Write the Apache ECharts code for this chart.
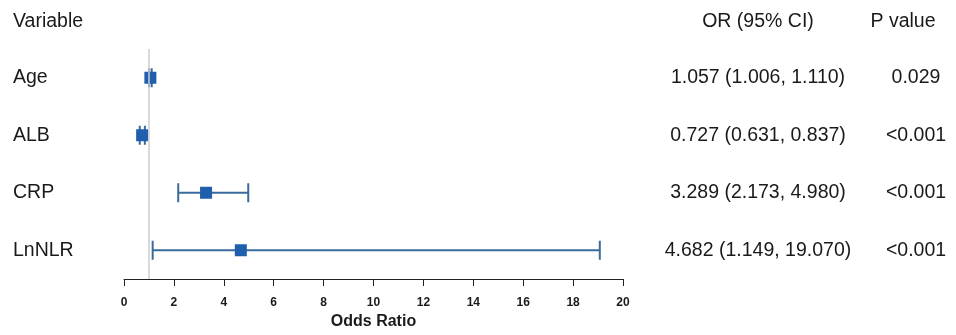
<!DOCTYPE html>
<html>
<head>
<meta charset="utf-8">
<script src="https://cdn.jsdelivr.net/npm/echarts@6/dist/echarts.min.js"></script>
<style>
  html, body { margin: 0; padding: 0; background: #ffffff; }
  #chart { width: 956px; height: 335px; }
</style>
</head>
<body>
<div id="chart"></div>
<script>
// Logistic regression results: odds ratios with 95% confidence intervals
const variables  = ['Age', 'ALB', 'CRP', 'LnNLR'];
const oddsRatios = [1.057, 0.727, 3.289, 4.682];
const ciLower    = [1.006, 0.631, 2.173, 1.149];
const ciUpper    = [1.110, 0.837, 4.980, 19.070];
const pValues    = ['0.029', '<0.001', '<0.001', '<0.001'];

const headerVariable = 'Variable';
const headerOR       = 'OR (95% CI)';
const headerP        = 'P value';
const axisTitle      = 'Odds Ratio';

const xMin = 0, xMax = 20, xStep = 2;
const nullValue = 1;

const FONT = '"Liberation Sans", Arial, sans-serif';
const TEXT_SIZE = 19.5;
const TEXT_COLOR = '#1a1a1a';
const MARK_COLOR = '#1f5fae';
const WHISKER_COLOR = '#3a6b9c';

const orText = oddsRatios.map((v, i) =>
  v.toFixed(3) + ' (' + ciLower[i].toFixed(3) + ', ' + ciUpper[i].toFixed(3) + ')');

const chart = echarts.init(document.getElementById('chart'), null, { renderer: 'canvas' });

const categoryAxis = (extra) => Object.assign({
  type: 'category',
  data: variables,
  inverse: true,
  axisLine: { show: false },
  axisTick: { show: false },
  splitLine: { show: false }
}, extra);

const tableLabel = (extra) => Object.assign({
  fontFamily: FONT, fontSize: TEXT_SIZE, color: TEXT_COLOR,
  padding: [3, 0, 0, 0]
}, extra);

const option = {
  animation: false,
  backgroundColor: '#ffffff',
  textStyle: { fontFamily: FONT },
  grid: { left: 124, right: 333, top: 49, bottom: 56, containLabel: false },
  xAxis: {
    type: 'value',
    min: xMin, max: xMax, interval: xStep,
    name: axisTitle,
    nameLocation: 'middle',
    nameGap: 35,
    nameTextStyle: { fontFamily: FONT, fontSize: 16, fontWeight: 'bold', color: TEXT_COLOR },
    axisLine: { show: true, lineStyle: { color: '#222', width: 1 } },
    axisTick: { show: true, length: 7, lineStyle: { color: '#222', width: 1 } },
    axisLabel: { fontFamily: FONT, fontSize: 12, fontWeight: 'bold', color: TEXT_COLOR, margin: 18 },
    splitLine: { show: false }
  },
  yAxis: [
    categoryAxis({
      position: 'left',
      axisLabel: tableLabel({ align: 'left', margin: 111, padding: [1, 0, 0, 0] })
    }),
    categoryAxis({
      position: 'right',
      axisLabel: tableLabel({ align: 'center', margin: 135, formatter: (v, i) => orText[i] })
    }),
    categoryAxis({
      position: 'right',
      axisLabel: tableLabel({ align: 'center', margin: 293, formatter: (v, i) => pValues[i] })
    })
  ],
  graphic: [
    { type: 'text', x: 13, y: 21.5,
      style: { text: headerVariable, font: TEXT_SIZE + 'px ' + FONT, fill: TEXT_COLOR, textAlign: 'left', textVerticalAlign: 'middle' } },
    { type: 'text', x: 758, y: 21.5,
      style: { text: headerOR, font: TEXT_SIZE + 'px ' + FONT, fill: TEXT_COLOR, textAlign: 'center', textVerticalAlign: 'middle' } },
    { type: 'text', x: 903, y: 21.5,
      style: { text: headerP, font: TEXT_SIZE + 'px ' + FONT, fill: TEXT_COLOR, textAlign: 'center', textVerticalAlign: 'middle' } }
  ],
  series: [
    {
      // confidence interval whiskers with end caps
      type: 'custom',
      yAxisIndex: 0,
      silent: true,
      data: variables.map((v, i) => [ciLower[i], ciUpper[i], i]),
      renderItem: (params, api) => {
        const lo = api.coord([api.value(0), api.value(2)]);
        const hi = api.coord([api.value(1), api.value(2)]);
        const h = 9.5;
        const style = { stroke: WHISKER_COLOR, lineWidth: 2 };
        return {
          type: 'group',
          children: [
            { type: 'line', shape: { x1: lo[0], y1: lo[1], x2: hi[0], y2: hi[1] }, style },
            { type: 'line', shape: { x1: lo[0], y1: lo[1] - h, x2: lo[0], y2: lo[1] + h }, style },
            { type: 'line', shape: { x1: hi[0], y1: hi[1] - h, x2: hi[0], y2: hi[1] + h }, style }
          ]
        };
      },
      markLine: {
        silent: true,
        symbol: ['none', 'none'],
        label: { show: false },
        lineStyle: { color: '#cccccc', type: 'solid', width: 1.5 },
        data: [{ xAxis: nullValue }]
      },
      z: 2
    },
    {
      // point estimates
      type: 'scatter',
      yAxisIndex: 0,
      symbol: 'rect',
      symbolSize: 12,
      itemStyle: { color: MARK_COLOR, opacity: 1 },
      data: variables.map((v, i) => [oddsRatios[i], i]),
      z: 3
    }
  ]
};

chart.setOption(option);
</script>
</body>
</html>
